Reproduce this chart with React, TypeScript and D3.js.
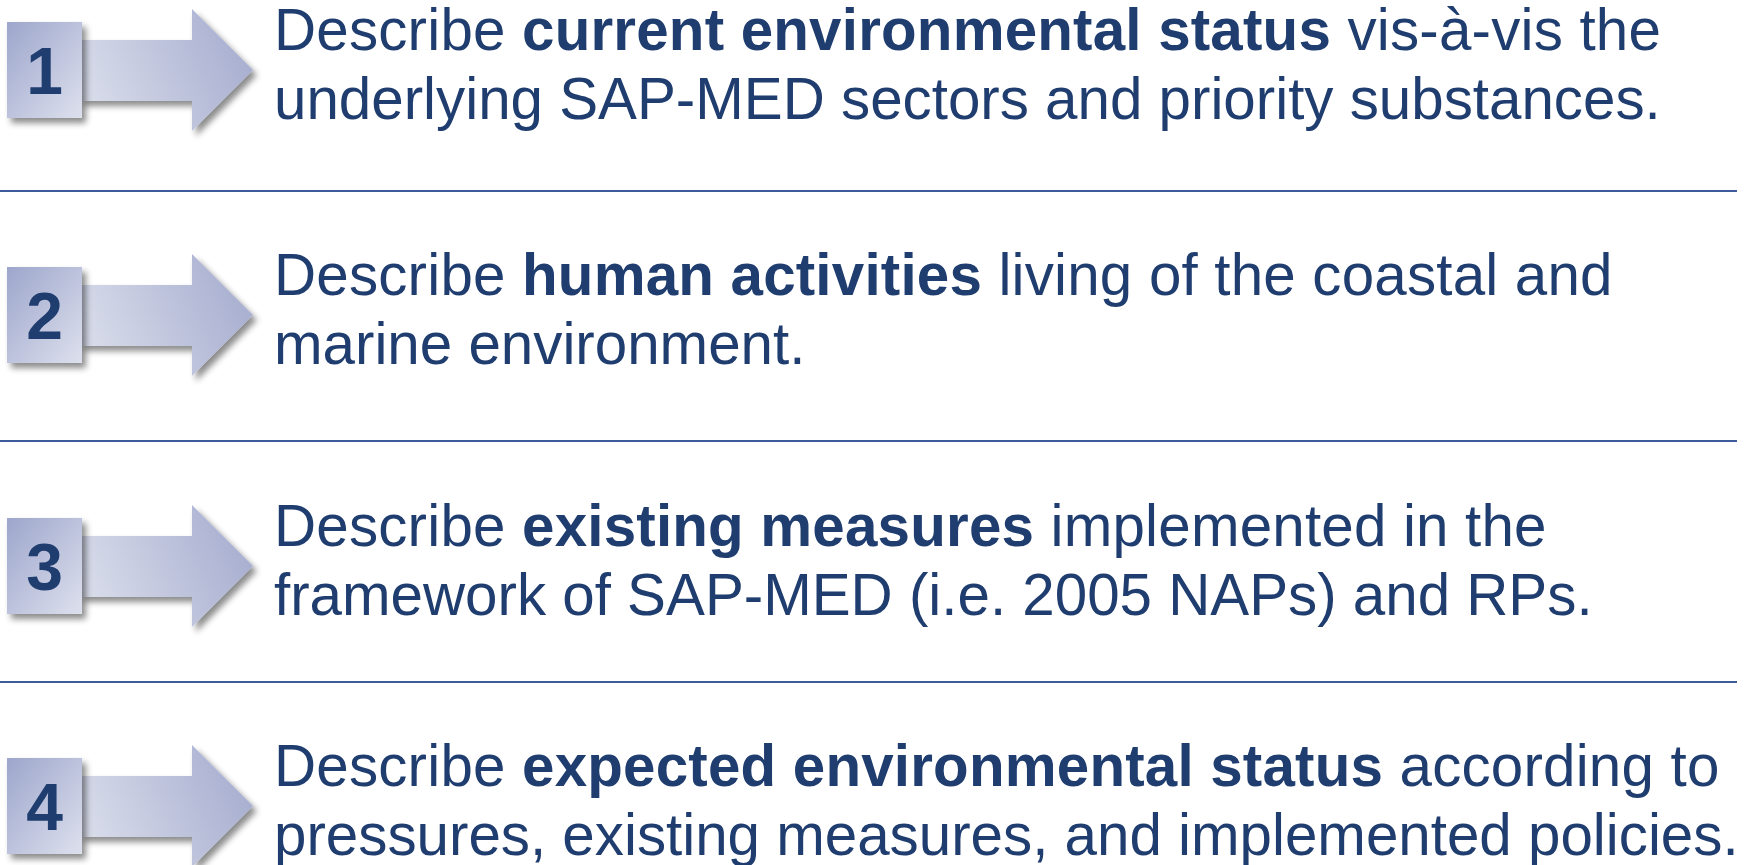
import React from "react";
import * as d3 from "d3";

const stepNumbers = ["1", "2", "3", "4"];
const leadWords = ["Describe ", "Describe ", "Describe ", "Describe "];
const boldPhrases = [
  "current environmental status",
  "human activities",
  "existing measures",
  "expected environmental status",
];
const lineOneTails = [
  " vis-à-vis the",
  " living of the coastal and",
  " implemented in the",
  " according to",
];
const lineTwoTexts = [
  "underlying SAP-MED sectors and priority substances.",
  "marine environment.",
  "framework of SAP-MED (i.e. 2005 NAPs) and RPs.",
  "pressures, existing measures, and implemented policies.",
];

const W = 1763;
const H = 865;
const rowCenters = [70, 315, 566, 806];
const separatorYs = [191, 441, 682];
const TEXT_COLOR = "#1F3D6F";
const LINE_COLOR = "#3D5A9A";
const FONT = "'Liberation Sans', Arial, sans-serif";
const FS = 58.3;

export default function App() {
  const arrowPath = (cy: number) => {
    const p = d3.path();
    p.moveTo(80, cy - 30);
    p.lineTo(192, cy - 30);
    p.lineTo(192, cy - 61);
    p.lineTo(253, cy);
    p.lineTo(192, cy + 61);
    p.lineTo(192, cy + 31);
    p.lineTo(80, cy + 31);
    p.closePath();
    return p.toString();
  };

  return (
    <svg
      width={W}
      height={H}
      style={{ position: "absolute", left: 0, top: 0, display: "block", background: "#fff" }}
    >
      <defs>
        <linearGradient id="boxGrad" x1="0" y1="0" x2="1" y2="1">
          <stop offset="0" stopColor="#9DA6CC" />
          <stop offset="1" stopColor="#DDE0ED" />
        </linearGradient>
        <linearGradient id="arrowGrad" x1="0" y1="0.6" x2="1" y2="0.3">
          <stop offset="0" stopColor="#D8DCEA" />
          <stop offset="1" stopColor="#A6ADCF" />
        </linearGradient>
        <filter id="shadow" x="-20%" y="-20%" width="150%" height="150%">
          <feDropShadow dx="4" dy="5" stdDeviation="3" floodColor="#000" floodOpacity="0.45" />
        </filter>
      </defs>

      {separatorYs.map((y, i) => (
        <line key={i} x1={0} x2={1737} y1={y} y2={y} stroke={LINE_COLOR} strokeWidth={2} />
      ))}

      {stepNumbers.map((n, i) => {
        const cy = rowCenters[i];
        return (
          <g key={n}>
            <path d={arrowPath(cy)} fill="url(#arrowGrad)" filter="url(#shadow)" />
            <rect
              x={7}
              y={cy - 48}
              width={75}
              height={96}
              fill="url(#boxGrad)"
              filter="url(#shadow)"
            />
            <text
              x={44.5}
              y={cy + 24}
              textAnchor="middle"
              fontFamily={FONT}
              fontWeight="bold"
              fontSize={66}
              fill={TEXT_COLOR}
            >
              {n}
            </text>
            <text
              x={274}
              y={cy - 20.5}
              fontFamily={FONT}
              fontSize={FS}
              fill={TEXT_COLOR}
              letterSpacing={0.2}
            >
              <tspan>{leadWords[i]}</tspan>
              <tspan fontWeight="bold">{boldPhrases[i]}</tspan>
              <tspan>{lineOneTails[i]}</tspan>
            </text>
            <text x={274} y={cy + 49} fontFamily={FONT} fontSize={FS} fill={TEXT_COLOR}>
              {lineTwoTexts[i]}
            </text>
          </g>
        );
      })}
    </svg>
  );
}
